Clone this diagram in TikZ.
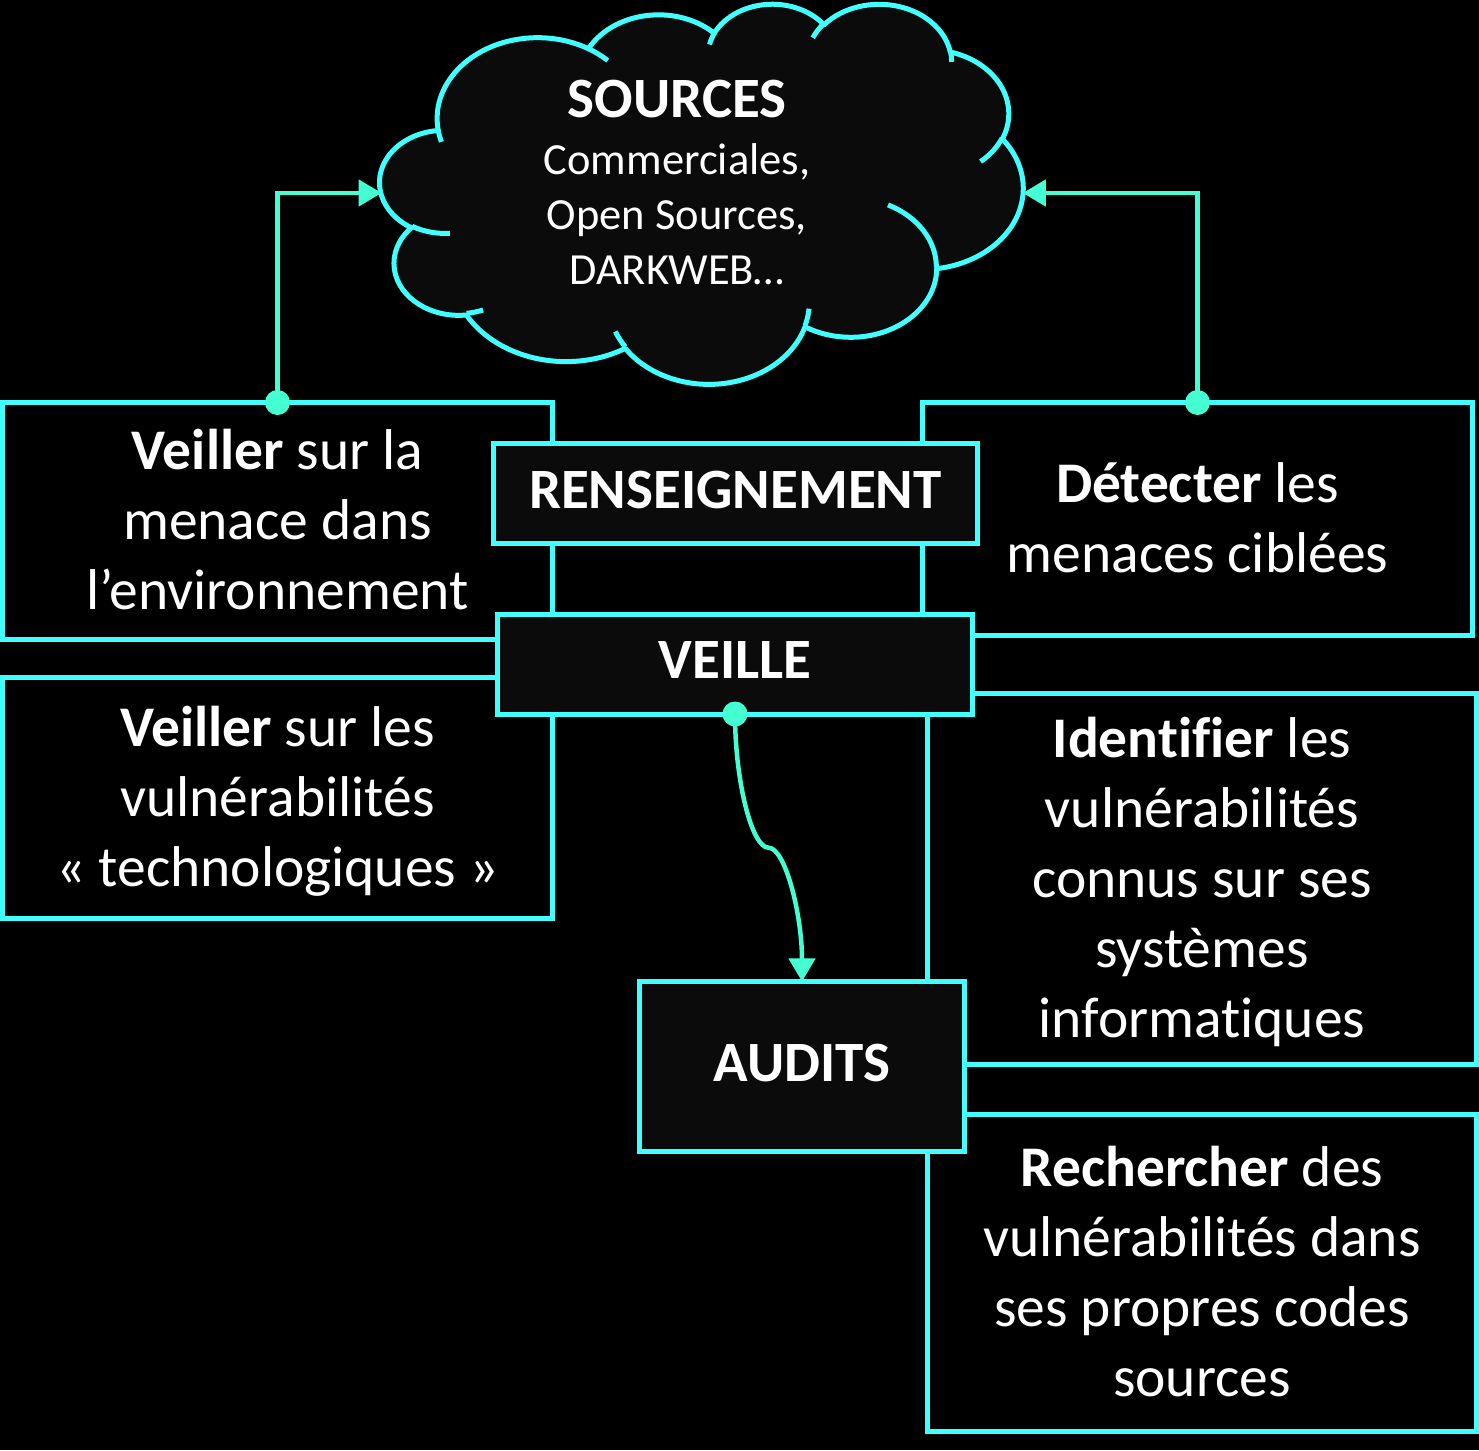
\documentclass[tikz,border=0pt]{standalone}
\usepackage{fontspec}
\setmainfont{Carlito}[Ligatures={NoCommon}]
\usetikzlibrary{arrows.meta,calc}

\definecolor{edge}{RGB}{64,255,255}
\definecolor{link}{RGB}{68,255,210}
\definecolor{panel}{RGB}{11,11,11}

% One lobe of the cloud outline: the angles are given on the ellipse as seen
% (y pointing down); they are turned into parametric canvas angles here.
\newcommand\cldang[5]{%
  \pgfmathsetmacro\cldtmpa{atan2((#2)*sin(#4),(#3)*cos(#4))}%
  \pgfmathsetmacro\cldtmpb{atan2((#2)*sin((#4)+(#5)),(#3)*cos((#4)+(#5)))}%
  \pgfmathsetmacro\cldtmpd{\cldtmpb-(\cldtmpa)}%
  \pgfmathsetmacro\cldtmpd{ifthenelse(\cldtmpd<0,\cldtmpd+360,\cldtmpd)}%
  \pgfmathsetmacro\cldtmps{0-(\cldtmpa)}%
  \pgfmathsetmacro\cldtmpd{0-(\cldtmpd)}%
  \expandafter\xdef\csname clds#1\endcsname{\cldtmps}%
  \expandafter\xdef\csname cldd#1\endcsname{\cldtmpd}%
}
\def\cldw{1.4884pt}
\def\cldh{0.8796pt}

% line struts: body text and titles
\newcommand\bxs{\rule[-10pt]{0pt}{57.5pt}}
\newcommand\tts{\rule[-14pt]{0pt}{57pt}}

\tikzset{
  box/.style={draw=edge, line width=5pt, fill=black, text=white, align=center,
    inner sep=0pt, outer sep=0pt, font=\fontsize{57.5}{70}\selectfont},
  titlebox/.style={box, fill=panel, font=\fontsize{57}{70}\selectfont\bfseries},
  cloudbody/.style={draw=edge, fill=panel, line width=5pt, line join=round},
  cloudline/.style={draw=edge, line width=5pt},
  conn/.style={draw=link, line width=4.5pt},
  arrowhead/.style={-{Triangle[length=23pt,width=26pt]}},
  joint/.style={fill=link},
}

\begin{document}
\begin{tikzpicture}[x=1pt,y=-1pt]
\useasboundingbox (0,0) rectangle (1479,1450);
\fill[black] (0,0) rectangle (1479,1450);

% boxes in the back
\node[box, minimum width=550pt, minimum height=237pt] (menace) at (277.5,521)
  {\bxs\textbf{Veiller} sur la\\\bxs menace dans\\\bxs l’environnement};
\node[box, minimum width=550pt, minimum height=232.5pt] (detect) at (1197.5,518.75)
  {\bxs\textbf{Détecter} les\\\bxs menaces ciblées};
\node[box, minimum width=550pt, minimum height=240.5pt] (vulntech) at (277.5,797.75)
  {\bxs\textbf{Veiller} sur les\\\bxs vulnérabilités\\\bxs «~technologiques~»};
\node[box, minimum width=549pt, minimum height=371pt] (identify) at (1202,878.5)
  {\bxs\textbf{Identifier} les\\\bxs vulnérabilités\\\bxs connus sur ses\\\bxs systèmes\\\bxs informatiques};
\node[box, minimum width=549pt, minimum height=317.5pt] (search) at (1202,1272.75)
  {\bxs\textbf{Rechercher} des\\\bxs vulnérabilités dans\\\bxs ses propres codes\\\bxs sources};

% cloud
\cldang{a}{67.53}{91.90}{-190.48748}{123.78053}
\cldang{b}{53.33}{72.67}{-144.10238}{89.94523}
\cldang{c}{43.65}{59.45}{-145.80792}{99.72302}
\cldang{d}{48.57}{65.95}{-130.98607}{117.24173}
\cldang{e}{53.33}{72.73}{-78.70888}{109.02692}
\cldang{f}{67.75}{92.20}{-46.26725}{130.269}
\cldang{g}{57.85}{78.67}{0.62502}{114.03333}
\cldang{h}{67.52}{92.15}{22.4516}{115.17255}
\cldang{i}{77.20}{105.43}{66.24263}{75.71102}
\cldang{j}{43.60}{59.18}{-274.94208}{146.73557}
\cldang{k}{43.45}{59.45}{-246.8285}{152.51885}
\cldang{ta}{43.45}{59.45}{86.742}{26.4295}
\cldang{tb}{43.60}{59.18}{73.61047}{11.44747}
\cldang{tc}{67.52}{92.15}{137.62415}{14.0811}
\cldang{td}{67.52}{92.15}{6.45327}{15.99835}
\cldang{te}{57.85}{78.67}{-70.29235}{70.91737}
\cldang{tf}{53.33}{72.73}{30.31803}{27.7515}
\cldang{tg}{48.57}{65.95}{-13.74433}{14.8589}
\cldang{th}{48.57}{65.95}{-149.18145}{18.19537}
\cldang{ti}{43.65}{59.45}{-163.49427}{17.68635}
\cldang{tj}{67.53}{91.90}{-66.70695}{12.31935}
\cldang{tk}{67.53}{91.90}{157.65435}{11.85817}
\begin{scope}[xshift=380pt, yshift=-3pt, x=1.4884pt, y=-0.8796pt]
  \filldraw[cloudbody] (39.00,143.70)
    arc[x radius=67.53*\cldw, y radius=91.90*\cldh, start angle=\cldsa, delta angle=\cldda]
    arc[x radius=53.33*\cldw, y radius=72.67*\cldh, start angle=\cldsb, delta angle=\clddb]
    arc[x radius=43.65*\cldw, y radius=59.45*\cldh, start angle=\cldsc, delta angle=\clddc]
    arc[x radius=48.57*\cldw, y radius=65.95*\cldh, start angle=\cldsd, delta angle=\clddd]
    arc[x radius=53.33*\cldw, y radius=72.73*\cldh, start angle=\cldse, delta angle=\cldde]
    arc[x radius=67.75*\cldw, y radius=92.20*\cldh, start angle=\cldsf, delta angle=\clddf]
    arc[x radius=57.85*\cldw, y radius=78.67*\cldh, start angle=\cldsg, delta angle=\clddg]
    arc[x radius=67.52*\cldw, y radius=92.15*\cldh, start angle=\cldsh, delta angle=\clddh]
    arc[x radius=77.20*\cldw, y radius=105.43*\cldh, start angle=\cldsi, delta angle=\clddi]
    arc[x radius=43.60*\cldw, y radius=59.18*\cldh, start angle=\cldsj, delta angle=\clddj]
    arc[x radius=43.45*\cldw, y radius=59.45*\cldh, start angle=\cldsk, delta angle=\clddk]
    -- cycle;
  \draw[cloudline]
    (46.93,261.77) arc[x radius=43.45*\cldw, y radius=59.45*\cldh, start angle=\cldsta, delta angle=\clddta]
    (69.28,348.99) arc[x radius=43.60*\cldw, y radius=59.18*\cldh, start angle=\cldstb, delta angle=\clddtb]
    (164.78,390.90) arc[x radius=67.52*\cldw, y radius=92.15*\cldh, start angle=\cldstc, delta angle=\clddtc]
    (288.27,347.51) arc[x radius=67.52*\cldw, y radius=92.15*\cldh, start angle=\cldstd, delta angle=\clddtd]
    (341.29,229.54) arc[x radius=57.85*\cldw, y radius=78.67*\cldh, start angle=\cldste, delta angle=\clddte]
    (417.98,153.54) arc[x radius=53.33*\cldw, y radius=72.73*\cldh, start angle=\cldstf, delta angle=\clddtf]
    (383.24,54.26) arc[x radius=48.57*\cldw, y radius=65.95*\cldh, start angle=\cldstg, delta angle=\clddtg]
    (290.78,39.52) arc[x radius=48.57*\cldw, y radius=65.95*\cldh, start angle=\cldsth, delta angle=\clddth]
    (221.41,47.20) arc[x radius=43.65*\cldw, y radius=59.45*\cldh, start angle=\cldsti, delta angle=\clddti]
    (140.00,51.92) arc[x radius=67.53*\cldw, y radius=91.90*\cldh, start angle=\cldstj, delta angle=\clddtj]
    (41.27,157.89) arc[x radius=67.53*\cldw, y radius=91.90*\cldh, start angle=\cldstk, delta angle=\clddtk];
\end{scope}
\node[text=white, align=center, inner sep=0pt, font=\fontsize{44.5}{55}\selectfont] (sources) at (677,185)
  {\rule{0pt}{42pt}{\fontsize{57}{57}\selectfont\bfseries SOURCES}\\[2pt]
   Commerciales,\\ Open Sources,\\ DARKWEB…\rule[-11pt]{0pt}{11pt}};
\coordinate (cloudW) at (381.6,193);
\coordinate (cloudE) at (1022.8,193);

% boxes in front
\node[titlebox, minimum width=483.5pt, minimum height=100pt] (renseignement) at (735.25,493.5) {\tts RENSEIGNEMENT};
\node[titlebox, minimum width=475pt, minimum height=99.5pt] (veille) at (735,664.25) {\tts VEILLE};
\node[titlebox, minimum width=325pt, minimum height=170.5pt] (audits) at (802,1066.7) {\tts AUDITS};

% connectors
\draw[conn, arrowhead] (menace.north) |- (cloudW);
\draw[conn, arrowhead] (detect.north) |- (cloudE);
\coordinate (bend) at ($(veille.south)!0.5!(audits.north)$);
\draw[conn, arrowhead] (veille.south)
  .. controls ($(veille.south)+(0,66.9)$) and ($(bend)+(-16.75,0)$) .. (bend)
  .. controls ($(bend)+(16.75,0)$) and ($(audits.north)+(0,-66.9)$) .. (audits.north);
\fill[joint] (menace.north) circle[radius=12.5pt];
\fill[joint] (detect.north) circle[radius=12.5pt];
\fill[joint] (veille.south) circle[radius=12.5pt];
\end{tikzpicture}
\end{document}
